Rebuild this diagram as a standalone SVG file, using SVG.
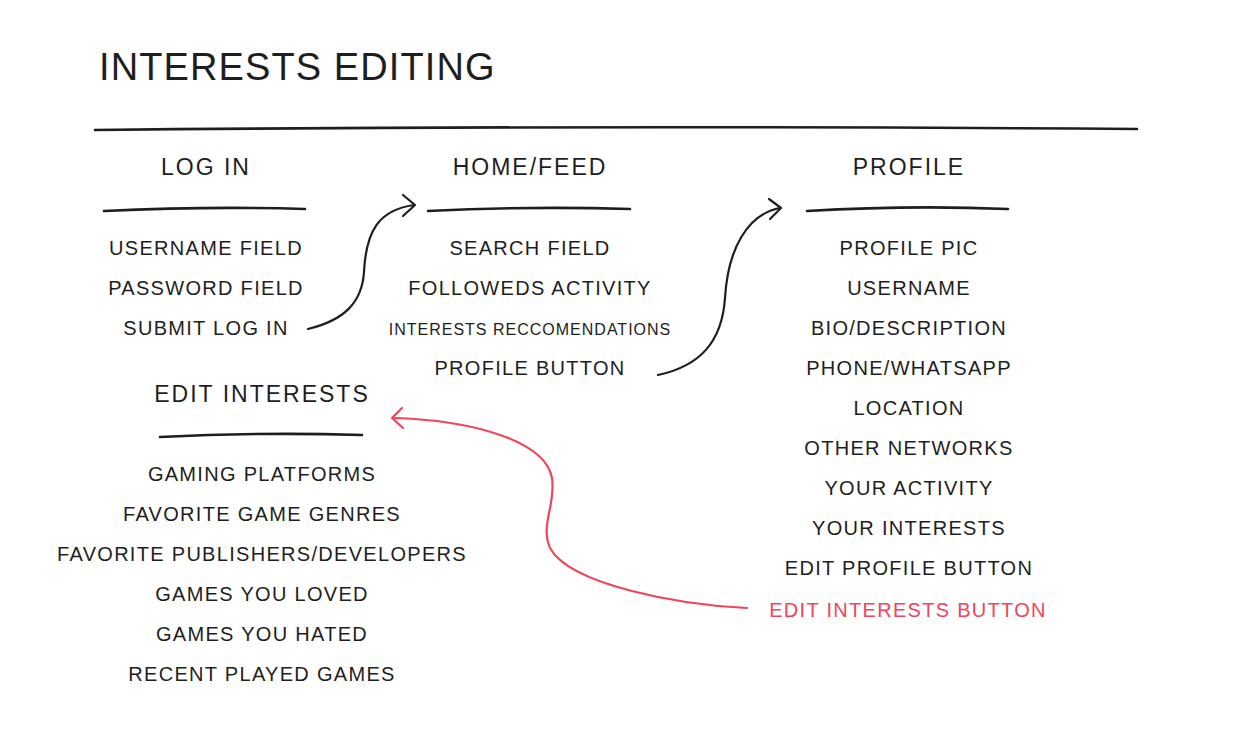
<svg xmlns="http://www.w3.org/2000/svg" width="1236" height="747" viewBox="0 0 1236 747">
<style>
text{font-family:"Liberation Sans",Arial,sans-serif;fill:#1e1e1e;text-anchor:middle}
.title{font-size:38px;letter-spacing:1.1px;text-anchor:start}
.hd{font-size:23px;letter-spacing:2px}
.it{font-size:20px;letter-spacing:1.3px}
.sm{font-size:16px;letter-spacing:1px}
.red{fill:#f0455a}
.rule{fill:none;stroke:#1e1e1e;stroke-width:2.6;stroke-linecap:round}
.conn{fill:none;stroke:#1e1e1e;stroke-width:2.2;stroke-linecap:round;stroke-linejoin:round}
.conn.r{stroke:#f0455a}
</style>
<rect width="1236" height="747" fill="#ffffff"/>
<g id="title">
<text class="title" x="99" y="80">INTERESTS EDITING</text>
<path class="rule" d="M95,130 Q600,125 1137,129"/>
</g>
<g id="login">
<text class="hd" x="206" y="175">LOG IN</text>
<path class="rule" d="M104,211 Q210,206 305,209"/>
<text class="it" x="206" y="255">USERNAME FIELD</text>
<text class="it" x="206" y="295">PASSWORD FIELD</text>
<text class="it" x="206" y="335">SUBMIT LOG IN</text>
</g>
<g id="home">
<text class="hd" x="530" y="175">HOME/FEED</text>
<path class="rule" d="M428,211 Q530,206 630,209"/>
<text class="it" x="530" y="255">SEARCH FIELD</text>
<text class="it" x="530" y="295">FOLLOWEDS ACTIVITY</text>
<text class="sm" x="530" y="335">INTERESTS RECCOMENDATIONS</text>
<text class="it" x="530" y="375">PROFILE BUTTON</text>
</g>
<g id="profile">
<text class="hd" x="909" y="175">PROFILE</text>
<path class="rule" d="M807,211 Q910,205 1008,209"/>
<text class="it" x="909" y="255">PROFILE PIC</text>
<text class="it" x="909" y="295">USERNAME</text>
<text class="it" x="909" y="335">BIO/DESCRIPTION</text>
<text class="it" x="909" y="375">PHONE/WHATSAPP</text>
<text class="it" x="909" y="415">LOCATION</text>
<text class="it" x="909" y="455">OTHER NETWORKS</text>
<text class="it" x="909" y="495">YOUR ACTIVITY</text>
<text class="it" x="909" y="535">YOUR INTERESTS</text>
<text class="it" x="909" y="575">EDIT PROFILE BUTTON</text>
<text class="it red" x="908" y="617">EDIT INTERESTS BUTTON</text>
</g>
<g id="edit-interests">
<text class="hd" x="262" y="402">EDIT INTERESTS</text>
<path class="rule" d="M160,437 Q260,432 362,435"/>
<text class="it" x="262" y="481">GAMING PLATFORMS</text>
<text class="it" x="262" y="521">FAVORITE GAME GENRES</text>
<text class="it" x="262" y="561">FAVORITE PUBLISHERS/DEVELOPERS</text>
<text class="it" x="262" y="601">GAMES YOU LOVED</text>
<text class="it" x="262" y="641">GAMES YOU HATED</text>
<text class="it" x="262" y="681">RECENT PLAYED GAMES</text>
</g>
<g id="connectors">
<path class="conn" d="M308,329 C345,320 362,302 364,272 C366,232 378,210 414,205"/>
<path class="conn" d="M403,195 L415,205 L403,216"/>
<path class="conn" d="M658,375 C700,366 722,342 725,298 C728,248 748,214 780,208"/>
<path class="conn" d="M769,199 L781,208 L770,219"/>
<path class="conn r" d="M747,608 C680,605 570,585 550,548 C540,525 556,505 552,478 C545,440 470,420 393,418"/>
<path class="conn r" d="M402,408 L392,418 L403,428"/>
</g>
</svg>
